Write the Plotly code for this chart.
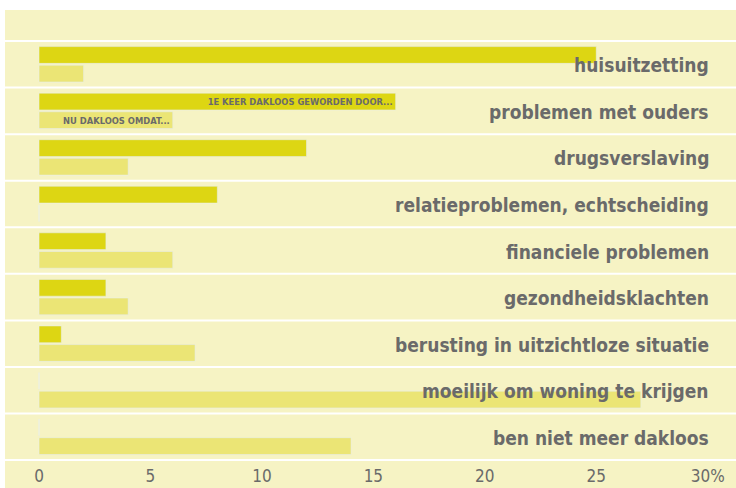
import plotly.graph_objects as go

categories = [
    "huisuitzetting",
    "problemen met ouders",
    "drugsverslaving",
    "relatieproblemen, echtscheiding",
    "financiele problemen",
    "gezondheidsklachten",
    "berusting in uitzichtloze situatie",
    "moeilijk om woning te krijgen",
    "ben niet meer dakloos",
]
first_time = [25, 16, 12, 8, 3, 3, 1, 0, 0]
now_because = [2, 6, 4, 0, 6, 4, 7, 27, 14]
first_label = ["", "1E KEER DAKLOOS GEWORDEN DOOR...", "", "", "", "", "", "", ""]
now_label = ["", "NU DAKLOOS OMDAT...", "", "", "", "", "", "", ""]
tick_vals = [0, 5, 10, 15, 20, 25, 30]
tick_text = ["0", "5", "10", "15", "20", "25", "30%"]

BG = "#f6f3c4"
DARK = "#ddd613"
LIGHT = "#ebe575"
GRAY = "#6a6a6a"
FONT = "DejaVu Sans Condensed, Liberation Sans Narrow, sans-serif"

fig = go.Figure()
fig.add_trace(go.Bar(
    y=categories, x=first_time, orientation="h", marker_color=DARK,
    text=first_label, textposition="inside", insidetextanchor="end",
    textfont=dict(family=FONT, size=9.3, color=GRAY, weight="bold"),
    constraintext="none", name="1e keer dakloos geworden door",
))
fig.add_trace(go.Bar(
    y=categories, x=now_because, orientation="h", marker_color=LIGHT,
    text=now_label, textposition="inside", insidetextanchor="end",
    textfont=dict(family=FONT, size=9.3, color=GRAY, weight="bold"),
    constraintext="none", name="nu dakloos omdat",
))

n = len(categories)
for k in range(n + 1):
    fig.add_shape(type="line", xref="paper", x0=0, x1=1, yref="y",
                  y0=k - 0.5, y1=k - 0.5, line=dict(color="white", width=2),
                  layer="below")

for cat in categories:
    fig.add_annotation(
        x=1, xref="paper", xanchor="right", xshift=-25,
        y=cat, yref="y", yanchor="middle", yshift=-1,
        text=cat, showarrow=False,
        font=dict(family=FONT, size=19, color=GRAY, weight="bold"),
    )

fig.update_layout(
    width=736, height=488,
    margin=dict(l=5, r=0, t=10, b=0),
    paper_bgcolor="white", plot_bgcolor=BG,
    barmode="group", bargap=0.2, bargroupgap=0.1,
    showlegend=False,
    font=dict(family=FONT, color=GRAY),
    xaxis=dict(range=[-1.527, 31.27], tickvals=tick_vals, ticktext=tick_text,
               showgrid=False, zeroline=False, showline=False, ticks="",
               ticklabelposition="inside", ticklabelstandoff=0,
               tickfont=dict(family=FONT, size=17, color=GRAY)),
    yaxis=dict(range=[n - 0.5 + 0.6, -0.5 - 0.666],
               showticklabels=False,
               showgrid=False, zeroline=False, showline=False, ticks=""),
)

fig.write_html("out.html", config={"displayModeBar": False},
               post_script="document.body.style.margin='0';document.body.style.padding='0';")
